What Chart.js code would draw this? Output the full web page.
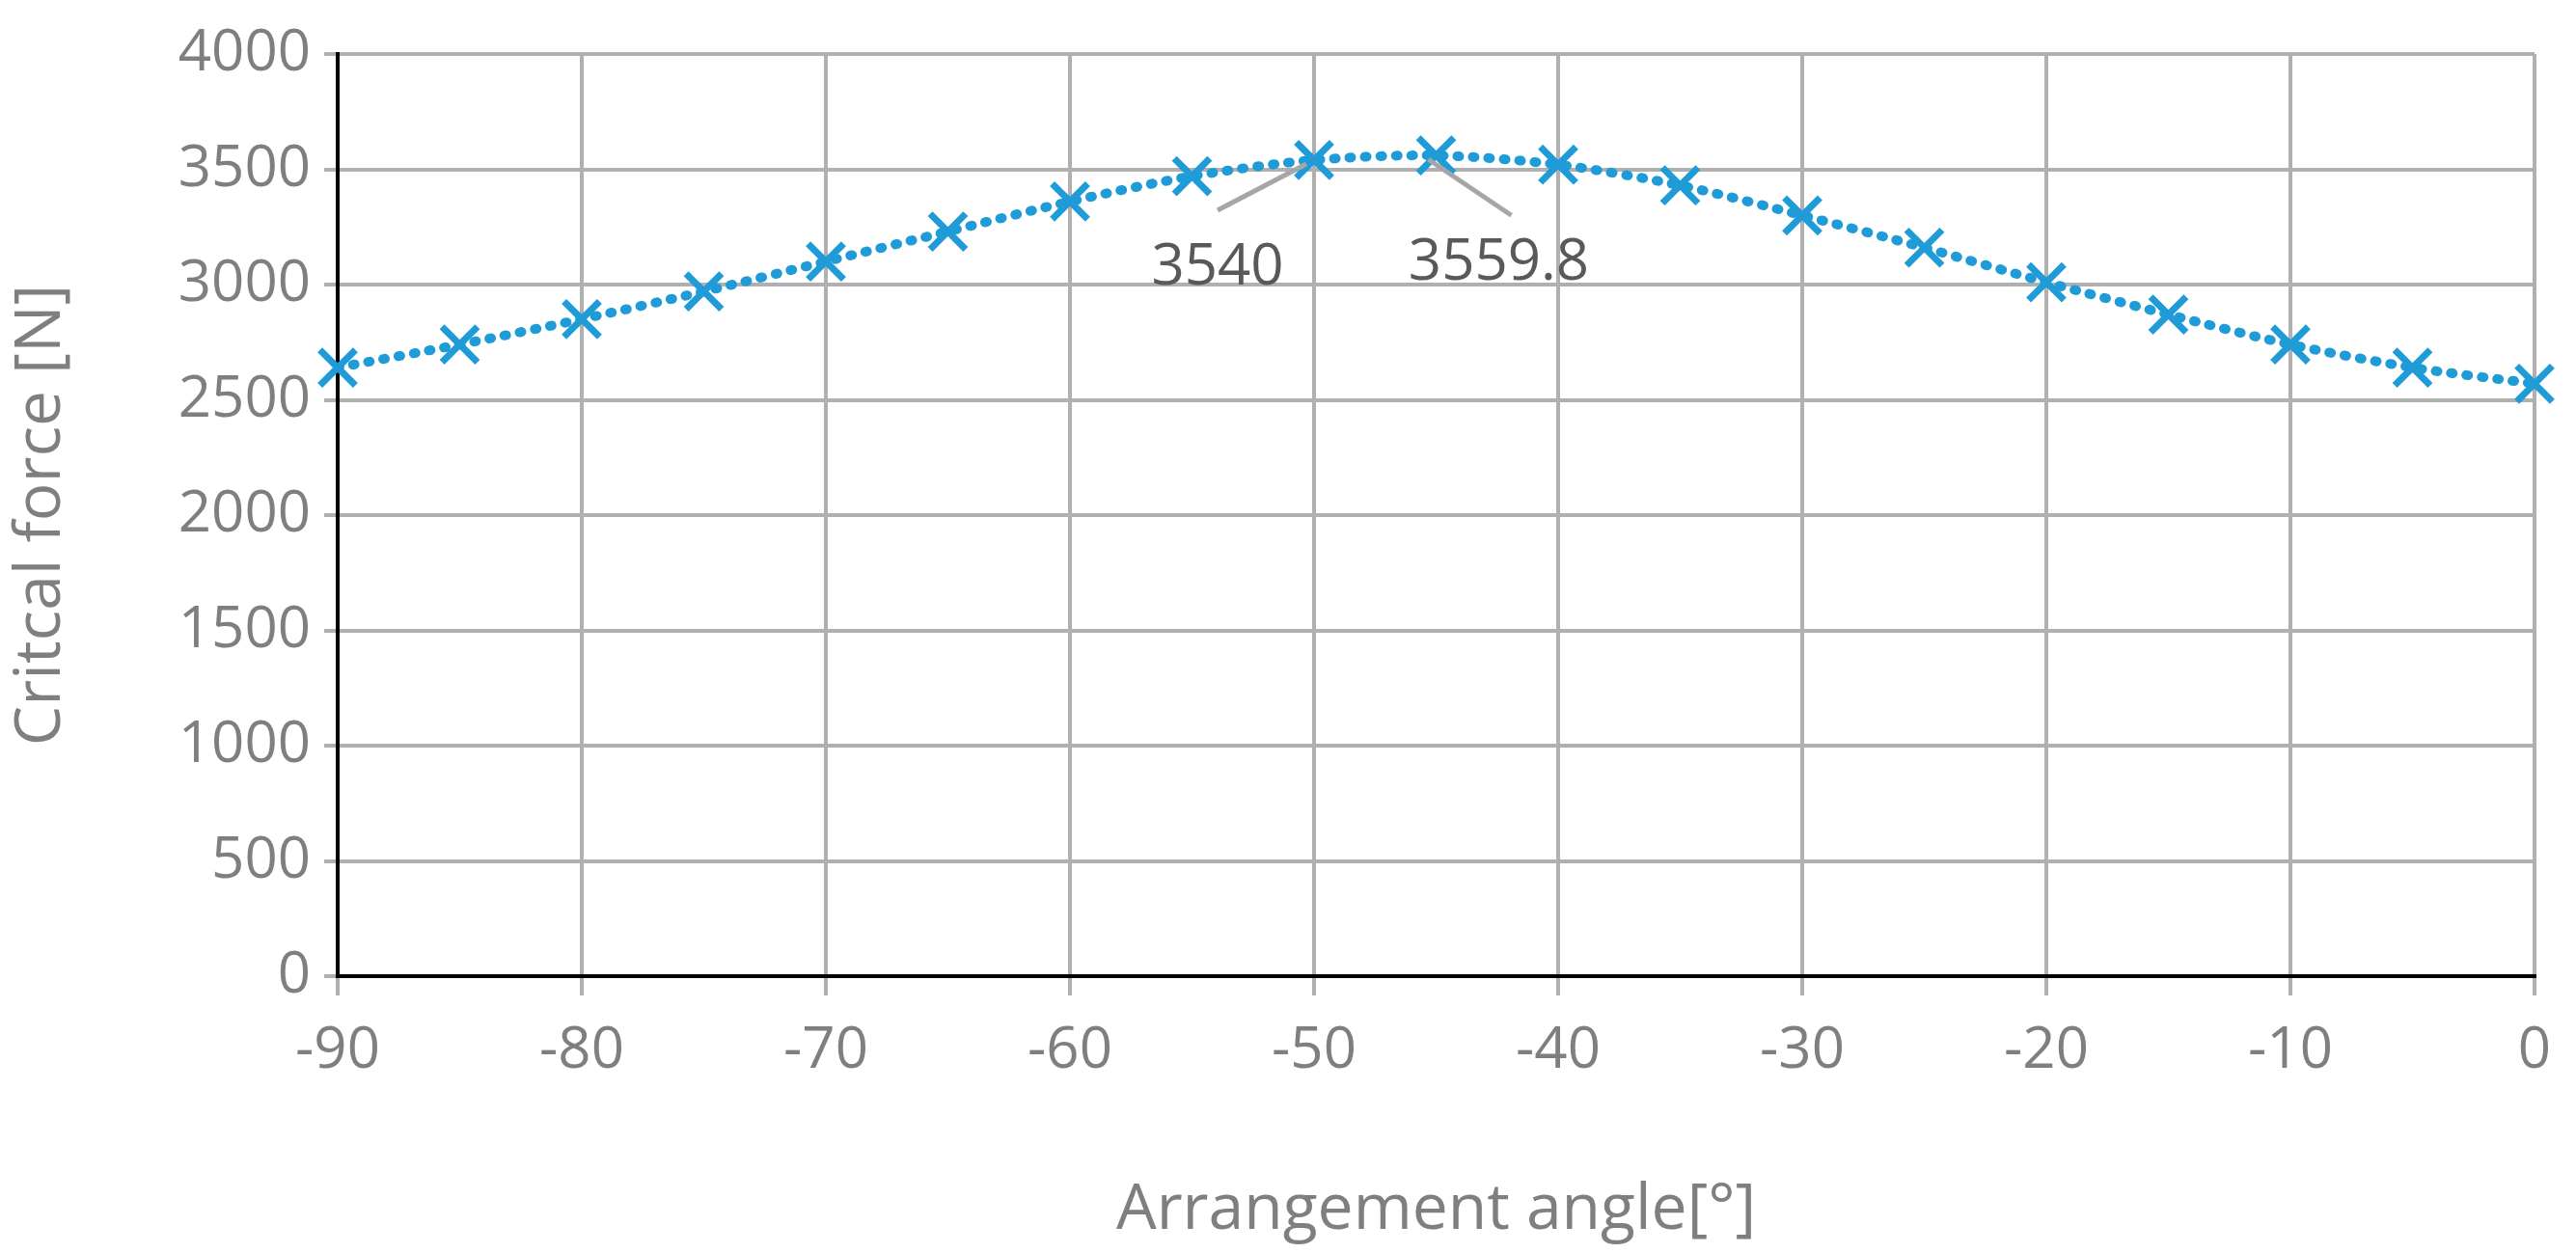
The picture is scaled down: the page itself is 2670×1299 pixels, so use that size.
<!DOCTYPE html>
<html>
<head>
<meta charset="utf-8">
<script src="https://cdn.jsdelivr.net/npm/chart.js@4/dist/chart.umd.min.js"></script>
<style>
  html, body { margin: 0; padding: 0; background: #fff; }
  #wrap { width: 2670px; height: 1299px; }
</style>
</head>
<body>
<div id="wrap"><canvas id="forceChart"></canvas></div>
<script>
// angles in degrees and critical force in N
const angles = [-90, -85, -80, -75, -70, -65, -60, -55, -50, -45, -40, -35, -30, -25, -20, -15, -10, -5, 0];
const forces = [2640, 2740, 2850, 2970, 3100, 3230, 3360, 3470, 3540, 3559.8, 3520, 3430, 3300, 3160, 3010, 2870, 2740, 2640, 2570];

// labelled points
const labelIdx = [8, 9];
const labelText = ["3540", "3559.8"];

const textGrey = "#7f7f7f";
const gridGrey = "#b0b0b0";
const fontFam = "'Open Sans', sans-serif";

const calloutPlugin = {
    id: "callouts",
    afterDatasetsDraw(chart) {
        const ctx = chart.ctx;
        const xs = chart.scales.x, ys = chart.scales.y;
        // offsets of the leader line start and text, in px relative to the point
        const offs = [
            { lx: -100, ly: 52, tx: -100, ty: 112 },
            { lx: 78, ly: 62, tx: 65, ty: 112 }
        ];
        ctx.save();
        labelIdx.forEach((i, k) => {
            const px = xs.getPixelForValue(angles[i]);
            const py = ys.getPixelForValue(forces[i]);
            const o = offs[k];
            ctx.strokeStyle = "#a6a6a6";
            ctx.lineWidth = 5;
            ctx.beginPath();
            ctx.moveTo(px + o.lx, py + o.ly);
            ctx.lineTo(px - 8, py + 4);
            ctx.stroke();
            ctx.fillStyle = "#595959";
            ctx.font = "60px " + fontFam;
            ctx.textAlign = "center";
            ctx.textBaseline = "middle";
            ctx.fillText(labelText[k], px + o.tx, py + o.ty);
        });
        ctx.restore();
    }
};

const ctx = document.getElementById("forceChart").getContext("2d");
new Chart(ctx, {
    type: "line",
    data: {
        datasets: [{
            data: angles.map((a, i) => ({ x: a, y: forces[i] })),
            borderColor: "#1f9bd7",
            borderWidth: 10,
            borderDash: [2, 14],
            borderCapStyle: "round",
            pointStyle: "crossRot",
            pointRadius: 26,
            pointBorderWidth: 7,
            pointBorderColor: "#1f9bd7",
            tension: 0.3,
            clip: false
        }]
    },
    options: {
        responsive: true,
        maintainAspectRatio: false,
        animation: false,
        layout: { padding: { top: 56, right: 43, left: 0, bottom: 0 } },
        plugins: { legend: { display: false }, tooltip: { enabled: false } },
        scales: {
            x: {
                type: "linear",
                min: -90, max: 0,
                afterFit(scale) { scale.height = 287; },
                ticks: { stepSize: 10, color: textGrey, padding: 22,
                          font: { size: 60, family: fontFam } },
                grid: { color: gridGrey, lineWidth: 4, tickLength: 20, tickColor: gridGrey },
                border: { color: "#000", width: 4 },
                title: { display: true, text: "Arrangement angle[°]", color: textGrey,
                         padding: { top: 20 },
                         font: { size: 66, family: fontFam } }
            },
            y: {
                min: 0, max: 4000,
                afterFit(scale) { scale.width = 350; },
                ticks: { stepSize: 500, color: textGrey, padding: 14,
                         callback: v => String(v),
                         font: { size: 60, family: fontFam } },
                grid: { color: gridGrey, lineWidth: 4, tickLength: 14, tickColor: gridGrey },
                border: { color: "#000", width: 4 },
                title: { display: true, text: "Critcal force [N]", color: textGrey,
                         padding: { bottom: 10 },
                         font: { size: 66, family: fontFam } }
            }
        }
    },
    plugins: [calloutPlugin]
});
</script>
</body>
</html>
